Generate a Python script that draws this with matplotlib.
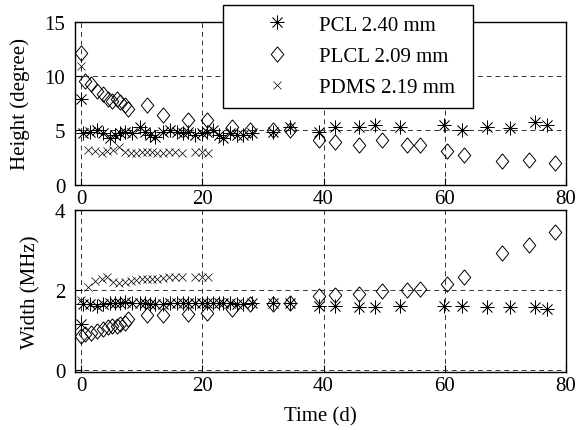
import matplotlib
matplotlib.use("Agg")
import matplotlib.pyplot as plt

plt.rcParams['font.family'] = ['Liberation Serif', 'DejaVu Serif']
plt.rcParams['font.size'] = 15

# PCL 2.40 mm
pcl_days = [0, 0.4, 1.5, 2.6, 3.7, 4.8, 5.6, 6.4, 7.3, 8.4, 9.7, 10.6, 11.4, 12.2,
            13.6, 14.7, 15.8, 16.9, 17.7, 18.8, 19.9, 20.7, 21.8, 22.7, 23.5, 24.6,
            25.7, 26.8, 28.2, 31.7, 34.5, 39.2, 41.9, 45.8, 48.5, 52.6, 59.8, 62.8,
            66.9, 70.8, 74.9, 76.8]
pcl_height = [7.9, 4.73, 4.88, 5.03, 4.73, 4.28, 4.58, 4.73, 4.88, 4.73, 5.33, 4.88,
              4.58, 4.43, 4.88, 5.03, 4.88, 4.73, 4.88, 4.58, 4.73, 4.88, 5.03, 4.58,
              4.28, 4.73, 4.58, 4.58, 4.73, 4.88, 5.33, 4.88, 5.33, 5.33, 5.48, 5.33,
              5.48, 5.03, 5.33, 5.18, 5.78, 5.48]
pcl_width = [1.14, 1.64, 1.64, 1.60, 1.64, 1.68, 1.68, 1.68, 1.70, 1.68, 1.68, 1.67,
             1.64, 1.64, 1.64, 1.67, 1.68, 1.68, 1.67, 1.68, 1.67, 1.68, 1.68, 1.67,
             1.68, 1.67, 1.64, 1.64, 1.68, 1.68, 1.68, 1.60, 1.60, 1.58, 1.58, 1.60,
             1.60, 1.60, 1.56, 1.56, 1.56, 1.53]

# PLCL 2.09 mm
plcl_days = [0, 0.66, 1.6, 2.6, 3.7, 4.5, 5.1, 5.9, 6.4, 7.3, 7.8, 10.8, 13.6, 17.7,
             20.7, 24.9, 27.9, 31.7, 34.5, 39.2, 41.9, 45.8, 49.6, 53.7, 55.9, 60.3,
             63.1, 69.4, 73.9, 78.2]
plcl_height = [12.1, 9.55, 9.25, 8.64, 8.34, 7.9, 7.74, 7.9, 7.6, 7.3, 7.0, 7.3, 6.4,
               5.93, 5.93, 5.33, 5.03, 5.03, 5.03, 4.13, 3.98, 3.67, 4.13, 3.67, 3.67,
               3.07, 2.77, 2.17, 2.32, 2.02]
plcl_width = [0.85, 0.89, 0.93, 0.98, 1.02, 1.06, 1.10, 1.10, 1.14, 1.18, 1.27, 1.37,
              1.37, 1.39, 1.43, 1.52, 1.64, 1.64, 1.68, 1.85, 1.87, 1.89, 1.98, 2.00,
              2.03, 2.14, 2.31, 2.93, 3.12, 3.45]

# PDMS 2.19 mm
pdms_days = [0, 1.2, 2.3, 3.4, 4.3, 5.3, 6.3, 7.2, 8.2, 9.1, 10.0, 10.8, 11.7, 12.5,
             13.5, 14.5, 15.5, 16.7, 18.8, 19.9, 21.0]
pdms_height = [10.9, 3.2, 3.1, 2.9, 3.1, 3.2, 3.5, 3.0, 2.9, 2.9, 3.0, 3.0, 3.0, 2.9,
               2.9, 3.0, 3.0, 2.9, 3.0, 3.0, 2.9]
pdms_width = [1.75, 2.06, 2.23, 2.28, 2.31, 2.20, 2.18, 2.20, 2.22, 2.25, 2.26, 2.27,
              2.28, 2.28, 2.30, 2.32, 2.32, 2.31, 2.31, 2.31, 2.31]

labels = ["PCL 2.40 mm", "PLCL 2.09 mm", "PDMS 2.19 mm"]

fig = plt.figure(figsize=(5.79, 4.31), dpi=100)
ax1 = fig.add_axes([0.1295, 0.569, 0.848, 0.378])
ax2 = fig.add_axes([0.1295, 0.134, 0.848, 0.377])

ast = (8, 2, 0)
# matlab style diamond, a bit taller than wide
diamond = [(0, 1), (0.82, 0), (0, -1), (-0.82, 0), (0, 1)]
for ax, ys in ((ax1, (pcl_height, plcl_height, pdms_height)),
               (ax2, (pcl_width, plcl_width, pdms_width))):
    ax.plot(pcl_days, ys[0], linestyle='none', marker=ast, ms=10, mec='k',
            mew=0.5, label=labels[0])
    ax.plot(plcl_days, ys[1], linestyle='none', marker=diamond, ms=11, mfc='none',
            mec='k', mew=0.7, label=labels[1])
    ax.plot(pdms_days, ys[2], linestyle='none', marker='x', ms=6, mec='k',
            mew=0.5, label=labels[2])
    ax.set_xlim(-1, 80)
    ax.set_xticks([0, 20, 40, 60, 80])
    ax.grid(True, color='#333333', linestyle=(0, (5, 4)), linewidth=0.7)
    ax.tick_params(direction='in', length=5, width=0.8)
    ax.tick_params(axis='x', pad=3)
    ax.tick_params(axis='y', pad=7)
    for s in ax.spines.values():
        s.set_linewidth(1.0)

ax1.set_ylim(0, 15)
ax1.set_yticks([0, 5, 10, 15])
ax1.set_ylabel("Height (degree)", labelpad=10)
ax2.set_ylim(-0.06, 4)
ax2.set_yticks([0, 2, 4])
ax2.set_ylabel("Width (MHz)", labelpad=10)
ax2.set_xlabel("Time (d)", labelpad=8)

leg = ax1.legend(loc='upper left', bbox_to_anchor=(0.385, 0.75, 0.432, 0.237),
                 bbox_transform=fig.transFigure, mode='expand', fancybox=False,
                 framealpha=1, edgecolor='k', borderpad=0.5, labelspacing=0.56,
                 handlelength=4.2, handletextpad=-0.1, borderaxespad=0)
leg.get_frame().set_linewidth(1.0)

fig.savefig("out.png", dpi=100)
